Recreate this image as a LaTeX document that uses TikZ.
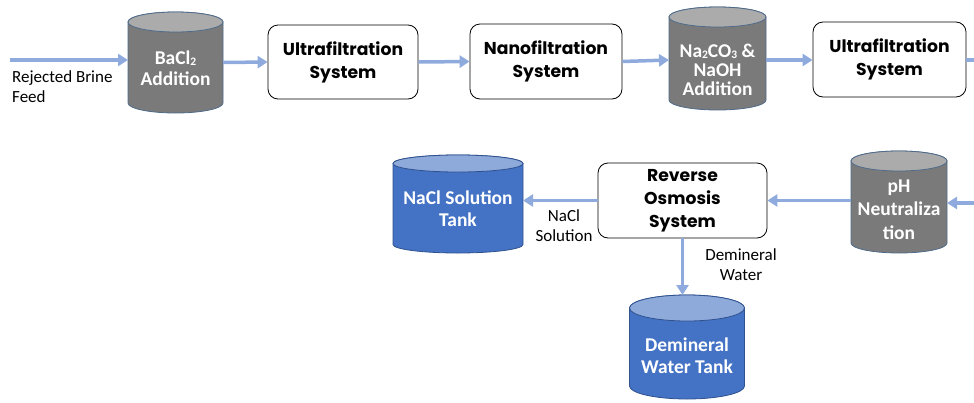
\documentclass[tikz,border=0pt]{standalone}
\usepackage{fontspec}
\setmainfont{Carlito}
\newfontfamily\procfont{Poppins}
\usetikzlibrary{arrows.meta}

\definecolor{flow}{HTML}{8FAADC}
\definecolor{graybody}{HTML}{7A7A7A}
\definecolor{graytop}{HTML}{ABABAB}
\definecolor{grayline}{HTML}{4F6B8A}
\definecolor{bluebody}{HTML}{4472C4}
\definecolor{bluetop}{HTML}{8EAADB}
\definecolor{blueline}{HTML}{2F528F}

% #1 node name, #2 half width, #3 end radius, #4 body, #5 top, #6 outline
\newcommand\tankshape[6]{%
  \path[draw=#6, fill=#4, line width=0.8pt]
    ([yshift=-#3]#1.north west) -- ([yshift=#3]#1.south west)
    arc[start angle=180, end angle=360, x radius=#2, y radius=#3]
    -- ([yshift=-#3]#1.north east)
    arc[start angle=0, end angle=180, x radius=#2, y radius=#3] -- cycle;
  \path[draw=#6, fill=#5, line width=0.8pt]
    ([yshift=-#3]#1.north) ellipse[x radius=#2, y radius=#3];
}
\newcommand\subtwo[1]{{\fontsize{11.5}{10}\selectfont\raisebox{-1pt}{#1}}}

\tikzset{
  tank/.style={inner sep=0pt, outer sep=0pt, draw=none},
  tanktext/.style={text=white, font=\fontsize{19.5}{20.5}\selectfont\bfseries, align=center, inner sep=0pt},
  process/.style={draw=black, line width=0.8pt, rounded corners=10pt, fill=white,
    inner sep=0pt, font=\procfont\fontsize{17.2}{22.8}\selectfont\bfseries, align=center},
  flowline/.style={draw=flow, line width=3.5pt, -{Triangle[length=10pt,width=12pt]}},
  note/.style={font=\fontsize{17}{20}\selectfont, align=center, inner sep=0pt},
}

\begin{document}
\begin{tikzpicture}[x=1pt, y=1pt]
\useasboundingbox (0,0) rectangle (974,-402);

% ---- upper row ----
\coordinate (feed) at (10,-60);
\node[tank, minimum width=95pt, minimum height=101pt] (bacl) at (175.5,-62.5) {};
\tankshape{bacl}{47.5pt}{10pt}{graybody}{graytop}{grayline}
\node[tanktext] (bacltext) at (175.5,-68) {BaCl\subtwo{2}\\Addition};

\node[process, minimum width=150pt, minimum height=74pt] (uf1) at (343,-62) {Ultrafiltration\\System};
\node[process, minimum width=152pt, minimum height=75pt] (nf) at (546,-61.5) {Nanofiltration\\System};

\node[tank, minimum width=97pt, minimum height=103pt] (soda) at (717.5,-58.5) {};
\tankshape{soda}{48.5pt}{10pt}{graybody}{graytop}{grayline}
\node[tanktext] (sodatext) at (717.5,-69.5) {Na\subtwo{2}CO\subtwo{3} \&\\[-1.5pt]NaOH\\[-1.5pt]Addition};

\node[process, minimum width=153pt, minimum height=75pt] (uf2) at (889.5,-59.5) {Ultrafiltration\\System};
\coordinate (outR) at (974,-60);

\node[note, align=left, anchor=west] (feedtext) at (12,-87) {Rejected Brine\\Feed};

% ---- lower row ----
\coordinate (inR) at (974,-203);
\node[tank, minimum width=96pt, minimum height=102pt] (ph) at (899,-202) {};
\tankshape{ph}{48pt}{10pt}{graybody}{graytop}{grayline}
\node[tanktext] (phtext) at (899,-209.5) {pH\\[3pt]Neutraliza\\[3pt]tion};

\node[process, minimum width=169pt, minimum height=75pt] (ro) at (682.5,-200.5) {Reverse\\Osmosis\\System};

\node[tank, minimum width=130pt, minimum height=98pt] (nacl) at (458,-204) {};
\tankshape{nacl}{65pt}{8.5pt}{bluebody}{bluetop}{blueline}
\node[tanktext] (nacltext) at (458,-209) {NaCl Solution\\[1.5pt]Tank};

\node[tank, minimum width=115pt, minimum height=104pt] (demin) at (687,-347) {};
\tankshape{demin}{57.5pt}{13pt}{bluebody}{bluetop}{blueline}
\node[tanktext] (demintext) at (687,-356) {Demineral\\[1.5pt]Water Tank};

\node[note] (nacllabel) at (564,-226) {NaCl\\Solution};
\node[note] (deminlabel) at (741,-265) {Demineral\\Water};

% ---- flows ----
\draw[flowline] (feed) -- (bacl.west |- feed);
\draw[flowline] (bacl.east) -- (uf1.west);
\draw[flowline] (uf1.east) -- (nf.west);
\draw[flowline] (nf.east) -- (soda.west |- 0,-60);
\draw[flowline] (soda.east |- 0,-60) -- (uf2.west |- 0,-60);
\draw[draw=flow, line width=3.5pt] (uf2.east |- outR) -- (outR);
\draw[flowline] (inR) -- (ph.east |- inR);
\draw[flowline] (ph.west |- ro.east) -- (ro.east);
\draw[flowline] (ro.west) -- (nacl.east |- ro.west);
\draw[flowline] (ro.south) -- (ro.south |- demin.north);
\end{tikzpicture}
\end{document}
